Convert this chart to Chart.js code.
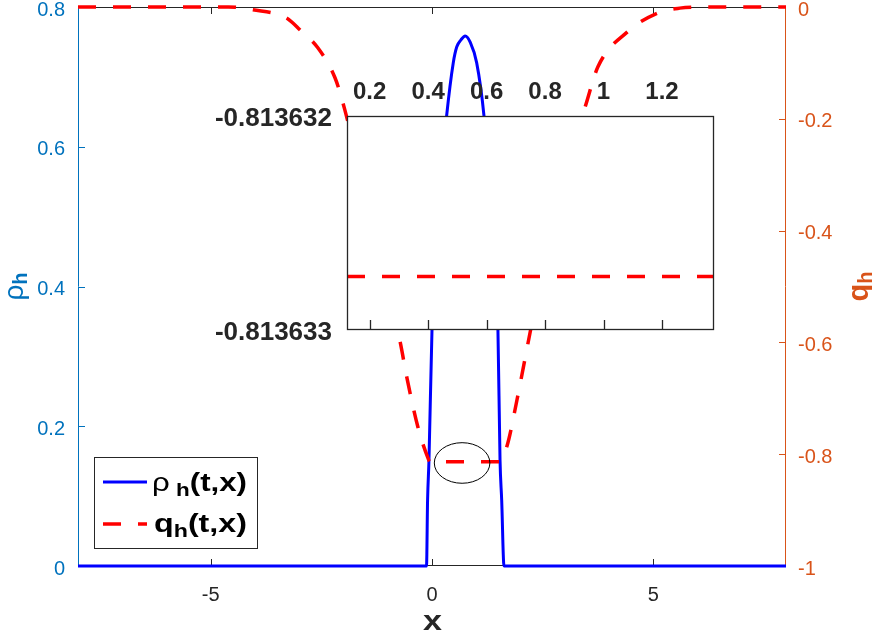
<!DOCTYPE html>
<html>
<head>
<meta charset="utf-8">
<script src="https://cdn.jsdelivr.net/npm/chart.js@4.4.1/dist/chart.umd.min.js"></script>
<style>
  body { margin: 0; background: #fff; }
  #wrap { position: relative; width: 872px; height: 631px; }
  #principal { position: absolute; left: 0; top: 0; }
  #zoom { position: absolute; left: 200px; top: 66px; }
</style>
</head>
<body>
<div id="wrap">
  <canvas id="principal" width="872" height="631"></canvas>
  <canvas id="zoom" width="516" height="290"></canvas>
</div>
<script>
// datos
var xRho = [-8, -0.124, -0.10, -0.068, 0, 0.15, 0.33, 0.48, 0.56, 0.655, 0.75, 0.86, 1.01, 1.175, 1.35, 1.49, 1.537, 1.575, 1.627, 8];
var rho  = [0, 0, 0.094, 0.152, 0.338, 0.52, 0.644, 0.72, 0.743, 0.753, 0.7585, 0.75, 0.72, 0.644, 0.50, 0.338, 0.152, 0.094, 0, 0];

var xQ = [-8, -4.6, -4.05, -3.28, -2.98, -2.58, -2.19, -1.97, -1.63, -1.18, -0.72, -0.57, -0.32, -0.09, -0.05, 1.52, 1.70, 1.92, 2.22, 2.55, 3.0, 3.46, 3.75, 4.41, 5.09, 5.6, 6.1, 8];
var q  = [0, 0, -0.005, -0.02, -0.041, -0.073, -0.127, -0.184, -0.297, -0.447, -0.599, -0.662, -0.751, -0.807, -0.8136, -0.8136, -0.784, -0.703, -0.581, -0.453, -0.292, -0.179, -0.107, -0.045, -0.011, -0.002, 0, 0];

var xTicks = [-5, 0, 5];
var rhoTicks = [0, 0.2, 0.4, 0.6, 0.8];
var qTicks = [-1, -0.8, -0.6, -0.4, -0.2, 0];

// recuadro ampliado
var xZoom = [0.1224, 1.378];
var qZoom = [-0.81363275, -0.81363275];
var xZoomTicks = [0.2, 0.4, 0.6, 0.8, 1, 1.2];
var qZoomTicks = [-0.813633, -0.813632];

// elipse que marca la zona ampliada
var elipse = { x: 0.68, q: -0.8157, rx: 0.628, rq: 0.0363 };

var AZUL = '#0072BD';
var NARANJA = '#D95319';
var GRIS = '#262626';
var FUENTE = '"Liberation Sans", Arial, sans-serif';

function puntos(xs, ys) {
  var p = [];
  for (var i = 0; i < xs.length; i++) p.push({ x: xs[i], y: ys[i] });
  return p;
}

function fijarTicks(valores) {
  return function (scale) { scale.ticks = valores.map(function (v) { return { value: v }; }); };
}

// sin relleno extra por las etiquetas de los extremos
function ajuste(prop, valor) {
  return function (s) {
    s[prop] = valor;
    s.paddingTop = 0; s.paddingBottom = 0; s.paddingLeft = 0; s.paddingRight = 0;
  };
}

// texto con subindice: partes = [[texto, fuente, desplazamiento]], estirado a un ancho dado
function textoSub(ctx, partes, x, y, ancho) {
  var w = anchoSub(ctx, partes);
  var k = ancho ? ancho / w : 1;
  ctx.save();
  ctx.translate(x, y);
  ctx.scale(k, 1);
  var cx = 0;
  partes.forEach(function (p) {
    ctx.font = p[1];
    ctx.fillText(p[0], cx, p[2]);
    cx += ctx.measureText(p[0]).width;
  });
  ctx.restore();
}
function anchoSub(ctx, partes) {
  var w = 0;
  partes.forEach(function (p) { ctx.font = p[1]; w += ctx.measureText(p[0]).width; });
  return w;
}

var marcoPrincipal = {
  id: 'marcoPrincipal',
  beforeDatasetsDraw: function (chart) {
    var ctx = chart.ctx, a = chart.chartArea;
    var sx = chart.scales.x, sy = chart.scales.y, sq = chart.scales.y1;
    ctx.save();
    ctx.lineWidth = 1;
    ctx.strokeStyle = GRIS;
    ctx.beginPath();
    ctx.moveTo(a.left, a.top + 0.5); ctx.lineTo(a.right, a.top + 0.5);
    ctx.moveTo(a.left, a.bottom - 0.5); ctx.lineTo(a.right, a.bottom - 0.5);
    xTicks.forEach(function (v) {
      var px = Math.round(sx.getPixelForValue(v)) + 0.5;
      ctx.moveTo(px, a.top); ctx.lineTo(px, a.top + 7);
      ctx.moveTo(px, a.bottom); ctx.lineTo(px, a.bottom - 7);
    });
    ctx.stroke();
    ctx.strokeStyle = AZUL;
    ctx.beginPath();
    ctx.moveTo(a.left + 0.5, a.top); ctx.lineTo(a.left + 0.5, a.bottom);
    rhoTicks.forEach(function (v) {
      var py = Math.round(sy.getPixelForValue(v)) + 0.5;
      ctx.moveTo(a.left, py); ctx.lineTo(a.left + 7, py);
    });
    ctx.stroke();
    ctx.strokeStyle = NARANJA;
    ctx.beginPath();
    ctx.moveTo(a.right - 0.5, a.top); ctx.lineTo(a.right - 0.5, a.bottom);
    qTicks.forEach(function (v) {
      var py = Math.round(sq.getPixelForValue(v)) + 0.5;
      ctx.moveTo(a.right, py); ctx.lineTo(a.right - 7, py);
    });
    ctx.stroke();
    ctx.restore();
  },
  afterDatasetsDraw: function (chart) {
    var ctx = chart.ctx, a = chart.chartArea;
    var sx = chart.scales.x, sq = chart.scales.y1;
    ctx.save();
    // elipse
    var cx = sx.getPixelForValue(elipse.x), cy = sq.getPixelForValue(elipse.q);
    var rx = sx.getPixelForValue(elipse.x + elipse.rx) - cx;
    var ry = sq.getPixelForValue(elipse.q - elipse.rq) - cy;
    ctx.strokeStyle = '#000';
    ctx.lineWidth = 1;
    ctx.beginPath();
    ctx.ellipse(cx, cy, rx, ry, 0, 0, Math.PI * 2);
    ctx.stroke();

    // leyenda
    ctx.fillStyle = '#fff';
    ctx.fillRect(94, 457, 163, 91);
    ctx.strokeStyle = GRIS;
    ctx.strokeRect(94.5, 457.5, 163, 91);
    ctx.lineWidth = 3;
    ctx.strokeStyle = '#0000FF';
    ctx.beginPath(); ctx.moveTo(103, 482); ctx.lineTo(147, 482); ctx.stroke();
    ctx.strokeStyle = '#FF0000';
    ctx.lineWidth = 3.5;
    ctx.setLineDash([18, 17]);
    ctx.beginPath(); ctx.moveTo(103, 524); ctx.lineTo(147, 524); ctx.stroke();
    ctx.setLineDash([]);
    ctx.fillStyle = '#000';
    ctx.textBaseline = 'alphabetic';
    ctx.textAlign = 'left';
    textoSub(ctx, [['\u03C1', '25px ' + FUENTE, 0], [' h', 'bold 18px ' + FUENTE, 5], ['(t,x)', 'bold 25px ' + FUENTE, 0]], 152, 491, 95);
    textoSub(ctx, [['q', 'bold 25px ' + FUENTE, 0], ['h', 'bold 18px ' + FUENTE, 5], ['(t,x)', 'bold 25px ' + FUENTE, 0]], 154, 532, 93);

    // titulos de ejes
    ctx.fillStyle = GRIS;
    textoSub(ctx, [['x', 'bold 28px ' + FUENTE, 0]], 423, 630, 19);

    var partesRho = [['\u03C1', '28px ' + FUENTE, 0], ['h', 'bold 20px ' + FUENTE, 4]];
    ctx.save();
    ctx.translate(23, (a.top + a.bottom) / 2);
    ctx.rotate(-Math.PI / 2);
    ctx.fillStyle = AZUL;
    textoSub(ctx, partesRho, -anchoSub(ctx, partesRho) / 2, 0);
    ctx.restore();

    var partesQ = [['q', 'bold 29px ' + FUENTE, 0], ['h', 'bold 20px ' + FUENTE, 4]];
    ctx.save();
    ctx.translate(868, (a.top + a.bottom) / 2);
    ctx.rotate(-Math.PI / 2);
    ctx.fillStyle = NARANJA;
    textoSub(ctx, partesQ, -anchoSub(ctx, partesQ) / 2, 0);
    ctx.restore();
    ctx.restore();
  }
};

var principal = new Chart(document.getElementById('principal'), {
  type: 'line',
  data: {
    datasets: [{
      label: 'rho',
      data: puntos(xRho, rho),
      yAxisID: 'y',
      borderColor: '#0000FF',
      borderWidth: 3,
      pointRadius: 0,
      cubicInterpolationMode: 'monotone',
      clip: false,
      order: 1
    }, {
      label: 'q',
      data: puntos(xQ, q),
      yAxisID: 'y1',
      borderColor: '#FF0000',
      borderWidth: 3.5,
      borderDash: [18, 17],
      pointRadius: 0,
      cubicInterpolationMode: 'monotone',
      clip: false,
      order: 0
    }]
  },
  options: {
    responsive: false,
    animation: false,
    devicePixelRatio: 1,
    layout: { padding: { top: 7, left: 0, right: 0, bottom: 0 } },
    plugins: { legend: { display: false }, tooltip: { enabled: false } },
    scales: {
      x: {
        type: 'linear', min: -8, max: 8,
        afterBuildTicks: fijarTicks(xTicks),
        afterFit: ajuste('height', 65),
        grid: { display: false, drawTicks: false },
        border: { display: false },
        ticks: { color: GRIS, font: { family: FUENTE, size: 20 }, padding: 17, maxRotation: 0 }
      },
      y: {
        position: 'left', min: 0, max: 0.8,
        afterBuildTicks: fijarTicks(rhoTicks),
        afterFit: ajuste('width', 78),
        grid: { display: false, drawTicks: false },
        border: { display: false },
        ticks: { color: AZUL, font: { family: FUENTE, size: 20 }, padding: 13, labelOffset: 3,
          callback: function (v) { return String(+v.toFixed(1)); } }
      },
      y1: {
        position: 'right', min: -1, max: 0,
        afterBuildTicks: fijarTicks(qTicks),
        afterFit: ajuste('width', 86),
        grid: { display: false, drawTicks: false },
        border: { display: false },
        ticks: { color: NARANJA, font: { family: FUENTE, size: 20 }, padding: 12, labelOffset: 3,
          callback: function (v) { return String(+v.toFixed(1)); } }
      }
    }
  },
  plugins: [marcoPrincipal]
});

var marcoZoom = {
  id: 'marcoZoom',
  beforeDatasetsDraw: function (chart) {
    var ctx = chart.ctx, a = chart.chartArea;
    ctx.save();
    ctx.fillStyle = '#fff';
    ctx.fillRect(a.left, a.top, a.right - a.left, a.bottom - a.top);
    ctx.restore();
  },
  afterDatasetsDraw: function (chart) {
    var ctx = chart.ctx, a = chart.chartArea, sx = chart.scales.x;
    ctx.save();
    ctx.strokeStyle = GRIS;
    ctx.lineWidth = 1.3;
    ctx.strokeRect(a.left + 0.5, a.top + 0.5, a.right - a.left - 1, a.bottom - a.top - 1);
    ctx.beginPath();
    xZoomTicks.forEach(function (v) {
      var px = Math.round(sx.getPixelForValue(v)) + 0.5;
      ctx.moveTo(px, a.bottom); ctx.lineTo(px, a.bottom - 10);
    });
    ctx.stroke();
    ctx.restore();
  }
};

var zoom = new Chart(document.getElementById('zoom'), {
  type: 'line',
  data: {
    datasets: [{
      label: 'q',
      data: puntos(xZoom, qZoom),
      borderColor: '#FF0000',
      borderWidth: 3.5,
      borderDash: [18, 17],
      pointRadius: 0
    }]
  },
  options: {
    responsive: false,
    animation: false,
    devicePixelRatio: 1,
    layout: { padding: { top: 0, left: 0, right: 2, bottom: 26 } },
    plugins: { legend: { display: false }, tooltip: { enabled: false } },
    scales: {
      x: {
        type: 'linear', position: 'top', min: xZoom[0], max: xZoom[1],
        afterBuildTicks: fijarTicks(xZoomTicks),
        afterFit: ajuste('height', 50),
        grid: { display: false, drawTicks: false },
        border: { display: false },
        ticks: { color: GRIS, font: { family: FUENTE, size: 24, weight: 'bold' }, padding: 9, maxRotation: 0,
          callback: function (v) { return String(+v.toFixed(1)); } }
      },
      y: {
        min: qZoomTicks[0], max: qZoomTicks[1],
        afterBuildTicks: fijarTicks(qZoomTicks),
        afterFit: ajuste('width', 147),
        grid: { display: false, drawTicks: false },
        border: { display: false },
        ticks: { color: GRIS, font: { family: FUENTE, size: 26, weight: 'bold' }, padding: 15, labelOffset: 3,
          callback: function (v) { return v.toFixed(6); } }
      }
    }
  },
  plugins: [marcoZoom]
});
</script>
</body>
</html>
